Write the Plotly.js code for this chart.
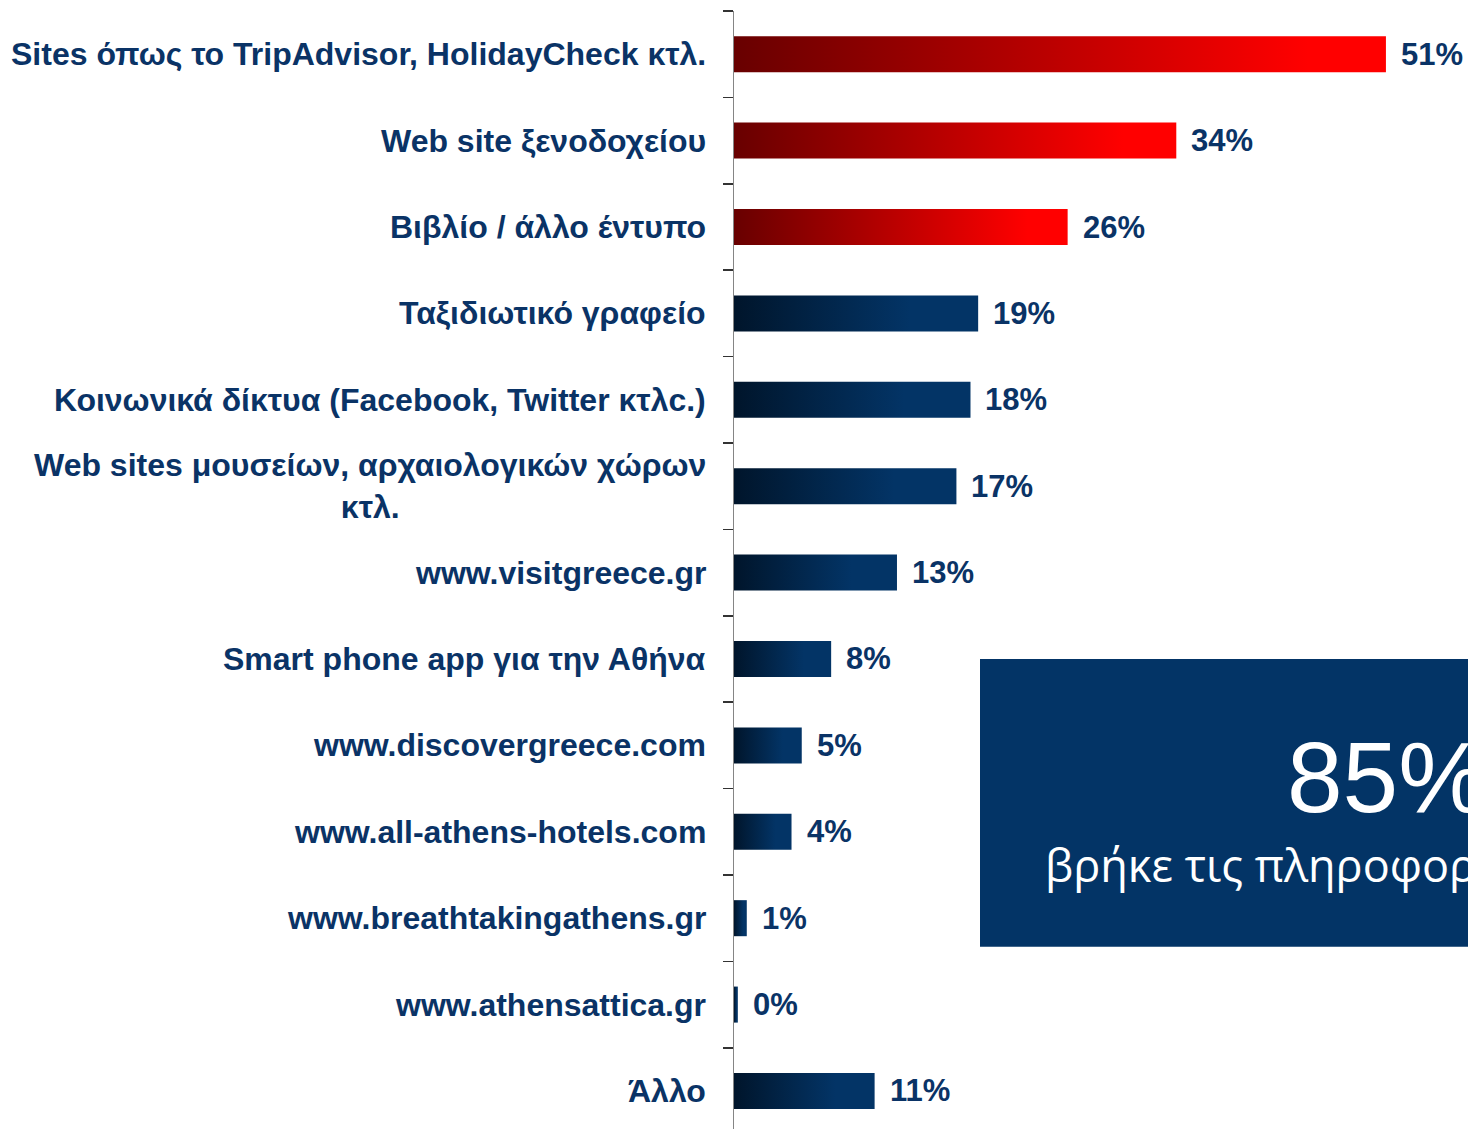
<!DOCTYPE html>
<html>
<head>
<meta charset="utf-8">
<script src="https://cdn.plot.ly/plotly-3.0.1.min.js"></script>
<style>
  html, body { margin: 0; padding: 0; background: #ffffff; overflow: hidden; }
  #chart { width: 1468px; height: 1129px; }
</style>
</head>
<body>
<div id="chart"></div>
<script>
// ---- data (top to bottom) ----
const categories = [
  "Sites όπως το TripAdvisor, HolidayCheck κτλ.",
  "Web site ξενοδοχείου",
  "Βιβλίο / άλλο έντυπο",
  "Ταξιδιωτικό γραφείο",
  "Κοινωνικά δίκτυα (Facebook, Twitter κτλc.)",
  "Web sites μουσείων, αρχαιολογικών χώρων<br>κτλ.",
  "www.visitgreece.gr",
  "Smart phone app για την Αθήνα",
  "www.discovergreece.com",
  "www.all-athens-hotels.com",
  "www.breathtakingathens.gr",
  "www.athensattica.gr",
  "Άλλο"
];
const values = [51, 34.6, 26.1, 19.1, 18.5, 17.4, 12.75, 7.6, 5.3, 4.5, 1.0, 0.3, 11.0];
const valueLabels = ["51%", "34%", "26%", "19%", "18%", "17%", "13%", "8%", "5%", "4%", "1%", "0%", "11%"];
const highlightCount = 3;   // top bars drawn in red
const calloutValue = "85%";
const calloutText = "βρήκε τις πληροφορίες";

// ---- styles ----
const navyText = "#0a3366";
const boldFont = "Liberation Sans, Arial, sans-serif";

const barColors = categories.map((c, i) => i < highlightCount ? "#e00000" : "#033466");

const trace = {
  type: "bar",
  orientation: "h",
  y: categories,
  x: values,
  marker: { color: barColors, line: { width: 0 } },
  hoverinfo: "none",
  cliponaxis: false
};

const annotations = [];
categories.forEach((c, i) => {
  annotations.push({
    xref: "paper", yref: "y", x: 0, y: c,
    xanchor: "right", yanchor: "middle", xshift: -26,
    text: c, align: "center", showarrow: false,
    font: { family: boldFont, size: 32, color: navyText, weight: "bold" }
  });
  annotations.push({
    xref: "x", yref: "y", x: values[i], y: c,
    xanchor: "left", yanchor: "middle", xshift: 13,
    text: valueLabels[i], showarrow: false,
    font: { family: boldFont, size: 31, color: navyText, weight: "bold" }
  });
});
annotations.push({
  xref: "paper", yref: "paper", x: 0.7507, y: 0.3148,
  xanchor: "left", yanchor: "middle", text: calloutValue, showarrow: false,
  font: { family: "Liberation Sans, Arial, sans-serif", size: 100, color: "#ffffff" }
});
annotations.push({
  xref: "paper", yref: "paper", x: (1043 - 734) / 734, y: 0.2362,
  xanchor: "left", yanchor: "middle", text: calloutText, showarrow: false,
  font: { family: "Open Sans, Noto Sans, sans-serif", size: 45, color: "#ffffff" }
});

const layout = {
  width: 1468, height: 1129,
  margin: { l: 734, r: 0, t: 11, b: 0, pad: 0 },
  paper_bgcolor: "#ffffff", plot_bgcolor: "rgba(0,0,0,0)",
  showlegend: false,
  bargap: 0.583,
  xaxis: { visible: false, range: [0, 57.42], fixedrange: true },
  yaxis: {
    type: "category",
    range: [12.44, -0.5],
    showticklabels: false,
    tickson: "boundaries",
    ticks: "outside", ticklen: 10, tickwidth: 1.5, tickcolor: "#333333",
    showline: true, linecolor: "#858585", linewidth: 1.5,
    showgrid: false, zeroline: false, fixedrange: true
  },
  shapes: [{
    type: "rect", xref: "paper", yref: "paper",
    x0: (980 - 734) / 734, x1: 1.05, y0: 0.1631, y1: 0.4204,
    fillcolor: "#033466", line: { width: 0 }, layer: "below"
  }],
  annotations: annotations
};

Plotly.newPlot("chart", [trace], layout, { displayModeBar: false, staticPlot: true }).then(gd => {
  const svgNS = "http://www.w3.org/2000/svg";
  const svg = gd.querySelector("svg.main-svg");
  let defs = svg.querySelector("defs");
  if (!defs) { defs = document.createElementNS(svgNS, "defs"); svg.insertBefore(defs, svg.firstChild); }
  function addGrad(id, stops) {
    const g = document.createElementNS(svgNS, "linearGradient");
    g.setAttribute("id", id);
    g.setAttribute("x1", "0"); g.setAttribute("y1", "0");
    g.setAttribute("x2", "1"); g.setAttribute("y2", "0");
    stops.forEach(s => {
      const st = document.createElementNS(svgNS, "stop");
      st.setAttribute("offset", s[0]);
      st.setAttribute("stop-color", s[1]);
      g.appendChild(st);
    });
    defs.appendChild(g);
  }
  addGrad("gradRed", [["0", "#680000"], ["0.88", "#ff0000"], ["1", "#ff0000"]]);
  addGrad("gradNavy", [["0", "#00152b"], ["0.72", "#033466"], ["1", "#033466"]]);
  const paths = gd.querySelectorAll(".barlayer .point path");
  paths.forEach((p, i) => {
    p.style.fill = i < highlightCount ? "url(#gradRed)" : "url(#gradNavy)";
  });
});
</script>
</body>
</html>
